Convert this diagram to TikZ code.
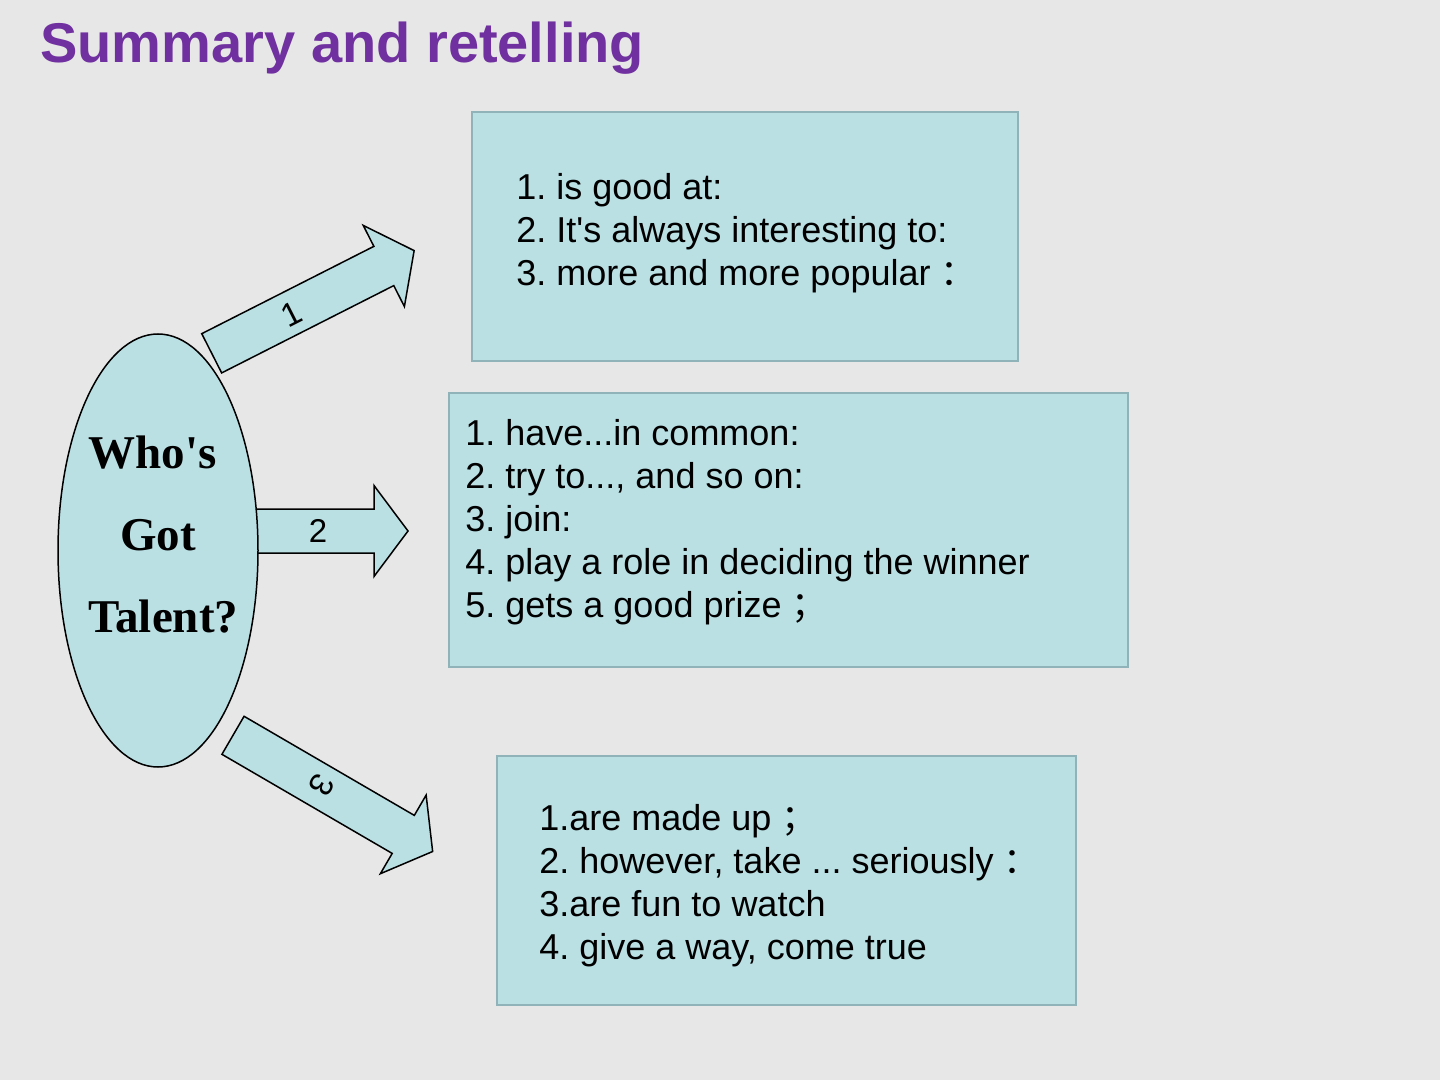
\documentclass[tikz,border=0pt]{standalone}
\usepackage{fontspec}
\setmainfont{Liberation Sans}
\newfontfamily\sansplain{Liberation Sans}
\newfontfamily\serifbf{Liberation Serif}
\newfontfamily\cjk{Noto Sans CJK SC}
\usetikzlibrary{shapes.geometric}
\definecolor{bg}{HTML}{E7E7E7}
\definecolor{cyanfill}{HTML}{BAE0E4}
\definecolor{boxline}{HTML}{8FB3B8}
\definecolor{titlepurple}{HTML}{7030A0}
\newcommand\fatarrow[5]{% name, tail x, tail y, angle, length
  \draw[blockarrow, shift={(#2,#3)}, rotate=#4]
    (0,-22) -- ({#5-34},-22) -- ({#5-34},-45.5) -- (#5,0) coordinate (#1tip)
    -- ({#5-34},45.5) -- ({#5-34},22) -- (0,22) -- cycle;}
\newcommand\sq{{\sansplain '}}
\frenchspacing
\begin{document}
\begin{tikzpicture}[x=0.5pt,y=-0.5pt,
  blockarrow/.style={draw=black, fill=cyanfill, line width=0.75pt, line join=miter},
  infobox/.style={draw=boxline, fill=cyanfill, line width=0.9pt, inner sep=0, rectangle},
  linetext/.style={anchor=base west, inner sep=0, font=\fontsize{18}{21.6}\selectfont\frenchspacing},
  ovaltext/.style={anchor=base west, inner sep=0, font=\fontsize{23.5}{28}\selectfont\serifbf\bfseries},
  arrowlabel/.style={inner sep=0, font=\fontsize{16.5}{19}\selectfont}]
\fill[bg] (0,0) rectangle (1440,1080);
\useasboundingbox (0,0) rectangle (1440,1080);

% title
\node[anchor=base west, inner sep=0, font=\fontsize{28}{34}\selectfont\bfseries, text=titlepurple]
  (title) at (40,63) {Summary and retelling};

% boxes
\node[infobox, minimum width=273pt, minimum height=124.5pt] (box1) at (745,236.5) {};
\node[infobox, minimum width=339.5pt, minimum height=137pt] (box2) at (788.5,530) {};
\node[infobox, minimum width=289.5pt, minimum height=124.5pt] (box3) at (786.5,880.5) {};

\node[linetext] (ba1) at (516,200) {1. is good at:};
\node[linetext] (ba2) at (516,243) {2. It\sq s always interesting to:};
\node[linetext] (ba3) at (516,286) {3. more and more popular {\cjk ：}};

\node[linetext] (bb1) at (465,445) {1. have...in common:};
\node[linetext] (bb2) at (465,488.2) {2. try to..., and so on:};
\node[linetext] (bb3) at (465,531.4) {3. join:};
\node[linetext] (bb4) at (465,574.6) {4. play a role in deciding the winner};
\node[linetext] (bb5) at (465,617.8) {5. gets a good prize {\cjk ；}};

\node[linetext] (bc1) at (539,830) {1.are made up {\cjk ；}};
\node[linetext] (bc2) at (539,873.2) {2. however, take ... seriously {\cjk ：}};
\node[linetext] (bc3) at (539,916.4) {3.are fun to watch};
\node[linetext] (bc4) at (539,959.6) {4. give a way, come true};

% block arrows
\fatarrow{aone}{211.7}{353.3}{26.9}{227}
\fatarrow{atwo}{240}{531}{0}{168}
\fatarrow{athree}{233}{735.3}{-30.2}{231}
\node[arrowlabel, rotate=27] (lone) at (292,314) {1};
\node[arrowlabel] (ltwo) at (318,531) {2};
\node[arrowlabel, rotate=-120] (lthree) at (322,785) {3};

% oval
\node[ellipse, draw=black, fill=cyanfill, line width=0.75pt, inner sep=0,
  minimum width=100pt, minimum height=216.5pt] (oval) at (158,550.5) {};
\node[ovaltext] (whos) at (88,468) {Who's};
\node[ovaltext] (got) at (120,550) {Got};
\node[ovaltext] (talent) at (88,632) {Talent?};
\end{tikzpicture}
\end{document}
